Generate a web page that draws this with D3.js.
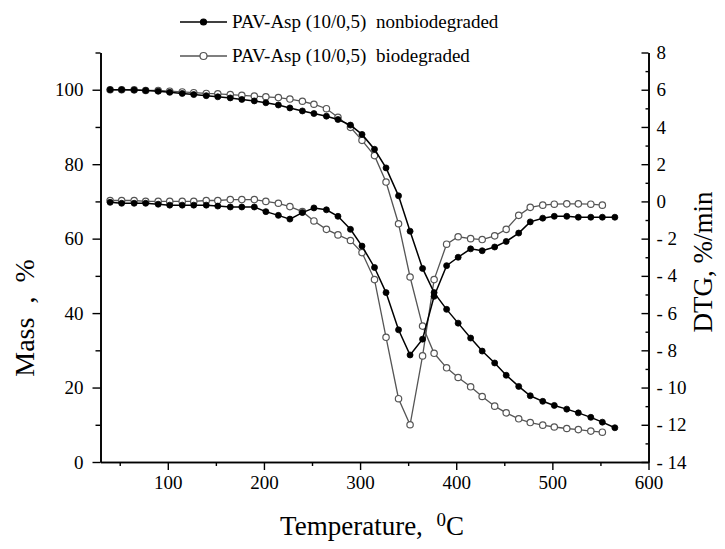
<!DOCTYPE html>
<html>
<head>
<meta charset="utf-8">
<script src="https://cdn.jsdelivr.net/npm/d3@7"></script>
<style>
  body { margin: 0; background: #fff; }
  text { white-space: pre; }
</style>
</head>
<body>
<svg id="chart" width="725" height="549" font-family="Liberation Serif, Times New Roman, serif"></svg>
<script>
// temperatures (°C) of the measured points
const tempBio = [40, 52, 65, 77, 90, 102, 115, 127, 140, 152, 165, 177, 190, 202, 215, 227, 240, 252, 265, 277, 290,
  302, 315, 327, 340, 352, 365, 377, 390, 402, 415, 427, 440, 452, 465, 477, 490, 502, 515, 527, 540, 552];
const tempNon = [40, 52, 65, 77, 90, 102, 115, 127, 140, 152, 165, 177, 190, 202, 215, 227, 240, 252, 265, 277, 290,
  302, 315, 327, 340, 352, 365, 377, 390, 402, 415, 427, 440, 452, 465, 477, 490, 502, 515, 527, 540, 552, 565];

// mass, %
const massNon = [100, 100, 99.9, 99.8, 99.6, 99.3, 99.0, 98.7, 98.4, 98.1, 97.8, 97.4, 97.0, 96.5, 95.9, 95.1, 94.3,
  93.6, 92.9, 92.0, 90.5, 88.0, 84.0, 79.0, 71.5, 62.0, 52.0, 45.5, 41.0, 37.3, 33.3, 29.8, 26.6, 23.3, 20.3, 17.8,
  16.3, 15.2, 14.2, 13.2, 12.0, 10.7, 9.2];
const massBio = [100, 100, 100, 99.8, 99.8, 99.6, 99.4, 99.2, 99.0, 98.9, 98.7, 98.5, 98.3, 98.1, 97.9, 97.5, 96.9,
  96.1, 94.9, 92.6, 89.9, 86.4, 82.3, 75.2, 64.0, 49.7, 36.5, 29.2, 25.3, 22.7, 20.2, 17.6, 15.0, 13.2, 11.6, 10.6,
  9.9, 9.4, 9.0, 8.7, 8.3, 8.0];

// DTG, %/min
const dtgNon = [-0.05, -0.1, -0.1, -0.1, -0.15, -0.2, -0.2, -0.2, -0.2, -0.25, -0.3, -0.3, -0.3, -0.55, -0.75, -0.95,
  -0.6, -0.35, -0.45, -0.8, -1.5, -2.4, -3.55, -4.9, -6.9, -8.25, -7.4, -5.1, -3.45, -3.0, -2.55, -2.65, -2.45, -2.15,
  -1.7, -1.1, -0.9, -0.8, -0.8, -0.85, -0.85, -0.85, -0.85];
const dtgBio = [0.05, 0.05, 0.05, 0, 0, 0, 0, 0, 0.05, 0.05, 0.1, 0.1, 0.1, 0, -0.1, -0.28, -0.55, -1.05, -1.5, -1.8,
  -2.1, -2.75, -4.2, -7.3, -10.6, -12.0, -8.3, -4.2, -2.3, -1.9, -2.0, -2.05, -1.85, -1.5, -0.75, -0.32, -0.2, -0.15,
  -0.13, -0.13, -0.15, -0.2];

const xTicks = [100, 200, 300, 400, 500, 600];
const xMinor = [50, 150, 250, 350, 450, 550];
const massTicks = [0, 20, 40, 60, 80, 100];
const massMinor = [10, 30, 50, 70, 90, 110];
const dtgTicks = [-14, -12, -10, -8, -6, -4, -2, 0, 2, 4, 6, 8];
const dtgMinor = [-13, -11, -9, -7, -5, -3, -1, 1, 3, 5, 7];

const legendNames = ["PAV-Asp (10/0,5)  nonbiodegraded", "PAV-Asp (10/0,5)  biodegraded"];

const serif = "Liberation Serif, Times New Roman, serif";
const svg = d3.select("#chart");
const padL = 100.5, padR = 648.5, padT = 52.5, padB = 462;

const x = d3.scaleLinear().domain([30, 600]).range([padL, padR]);
const yMass = d3.scaleLinear().domain([0, 110]).range([padB, padT]);
const yDtg = d3.scaleLinear().domain([-14, 8]).range([padB, padT]);

const fmtDtg = d => d < 0 ? "- " + Math.abs(d) : String(d);

function styleAxis(g) {
  g.attr("font-family", serif).attr("font-size", 19);
  g.select(".domain").attr("stroke", "#000").attr("stroke-width", 1.6);
  g.selectAll(".tick line").attr("stroke", "#000").attr("stroke-width", 1.4);
  g.selectAll(".tick text").attr("fill", "#000");
}

// x axis
svg.append("g").attr("transform", `translate(0,${padB})`)
  .call(d3.axisBottom(x).tickValues(xMinor).tickSize(4).tickFormat("").tickSizeOuter(0))
  .call(styleAxis);
svg.append("g").attr("transform", `translate(0,${padB})`)
  .call(d3.axisBottom(x).tickValues(xTicks).tickSize(8).tickPadding(6).tickSizeOuter(0))
  .call(styleAxis);

// left axis
svg.append("g").attr("transform", `translate(${padL},0)`)
  .call(d3.axisLeft(yMass).tickValues(massMinor).tickSize(5).tickFormat("").tickSizeOuter(0))
  .call(styleAxis);
svg.append("g").attr("transform", `translate(${padL},0)`)
  .call(d3.axisLeft(yMass).tickValues(massTicks).tickSize(8).tickPadding(9).tickSizeOuter(0))
  .call(styleAxis);

// right axis, ticks point inward
svg.append("g").attr("transform", `translate(${padR},0)`)
  .call(d3.axisRight(yDtg).tickValues(dtgMinor).tickSize(-3).tickFormat("").tickSizeOuter(0))
  .call(styleAxis);
const rAxis = svg.append("g").attr("transform", `translate(${padR},0)`)
  .call(d3.axisRight(yDtg).tickValues(dtgTicks).tickSize(-7).tickFormat(fmtDtg).tickSizeOuter(0))
  .call(styleAxis);
rAxis.selectAll(".tick text").attr("x", 8);

// series
const series = [
  {t: tempBio, v: massBio, y: yMass, open: true},
  {t: tempBio, v: dtgBio, y: yDtg, open: true},
  {t: tempNon, v: massNon, y: yMass, open: false},
  {t: tempNon, v: dtgNon, y: yDtg, open: false}
];

series.forEach(s => {
  const pts = s.t.map((t, i) => [t, s.v[i]]);
  const line = d3.line().x(d => x(d[0])).y(d => s.y(d[1]));
  svg.append("path").datum(pts)
    .attr("d", line)
    .attr("fill", "none")
    .attr("stroke", s.open ? "#555" : "#000")
    .attr("stroke-width", s.open ? 1.3 : 1.5);
  svg.append("g").selectAll("circle").data(pts).join("circle")
    .attr("cx", d => x(d[0]))
    .attr("cy", d => s.y(d[1]))
    .attr("r", s.open ? 3.2 : 3)
    .attr("fill", s.open ? "#fff" : "#000")
    .attr("stroke", s.open ? "#555" : "#000")
    .attr("stroke-width", s.open ? 1.2 : 0.8);
});

// legend
const legend = svg.append("g").attr("font-family", serif);
legendNames.forEach((name, i) => {
  const ly = 22 + i * 34;
  const open = i === 1;
  legend.append("line").attr("x1", 180).attr("x2", 227).attr("y1", ly).attr("y2", ly)
    .attr("stroke", open ? "#555" : "#000").attr("stroke-width", 1.5);
  legend.append("circle").attr("cx", 203.5).attr("cy", ly).attr("r", open ? 3.5 : 3)
    .attr("fill", open ? "#fff" : "#000").attr("stroke", open ? "#555" : "#000").attr("stroke-width", 1.2);
  legend.append("text").attr("x", 232).attr("y", ly + 6)
    .attr("font-size", 19).text(name);
});

// axis titles
svg.append("text")
  .attr("transform", `translate(34,318) rotate(-90)`)
  .attr("text-anchor", "middle").attr("font-size", 28).attr("font-family", serif)
  .text("Mass  ,  %");

svg.append("text")
  .attr("transform", `translate(712,262) rotate(-90)`)
  .attr("text-anchor", "middle").attr("font-size", 27).attr("font-family", serif)
  .text("DTG, %/min");

const xt = svg.append("text")
  .attr("x", 372).attr("y", 535)
  .attr("text-anchor", "middle").attr("font-size", 27).attr("font-family", serif);
xt.append("tspan").text("Temperature,  ");
xt.append("tspan").attr("dy", -9).attr("font-size", 19).text("0");
xt.append("tspan").attr("dy", 9).text("C");
</script>
</body>
</html>
